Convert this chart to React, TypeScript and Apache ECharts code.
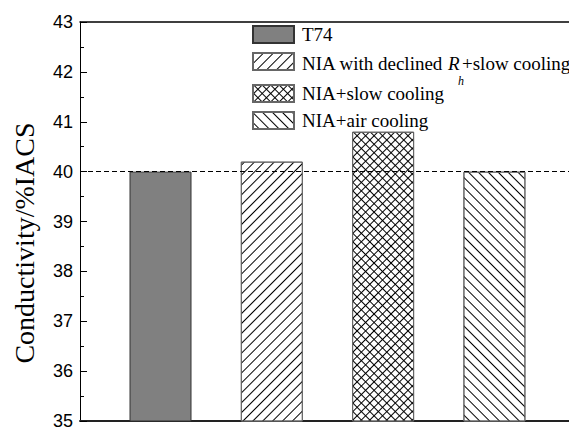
import React, { useEffect, useRef } from 'react';
import * as echarts from 'echarts';

// ---- data ----
const categories = ['T74', 'NIA with declined Rh+slow cooling', 'NIA+slow cooling', 'NIA+air cooling'];
const positions = [1, 2, 3, 4];
const values = [40.0, 40.2, 40.8, 40.0];
const yMin = 35;
const yMax = 43;
const yInterval = 1;
const referenceValue = 40;
const yAxisTitle = 'Conductivity/%IACS';
// legend label pieces for the second entry (R with subscript h)
const labelRow2 = ['NIA with declined', 'R', 'h', '+slow cooling'];

// ---- styles ----
const SERIF = '"Liberation Serif", "Times New Roman", serif';
const SANS = '"Liberation Sans", Arial, sans-serif';
const xMin = 0.2767;
const xMax = 4.67;

const lineDecal = (rotation: number) => ({
  symbol: 'rect',
  symbolSize: 1,
  dashArrayX: [1, 0],
  dashArrayY: [1, 6],
  rotation,
  color: '#000',
  backgroundColor: null,
});
const crossDecal = {
  symbol: 'rect',
  symbolSize: 1,
  dashArrayX: [[6, 0], [1, 5], [1, 5], [1, 5], [1, 5], [1, 5]],
  dashArrayY: [1, 0],
  rotation: Math.PI / 4,
  color: '#000',
  backgroundColor: null,
};
const fills = ['#808080', '#fff', '#fff', '#fff'];
const borders = ['#333', '#666', '#666', '#666'];
const decals: any[] = [undefined, lineDecal(-Math.PI / 4), crossDecal, lineDecal(Math.PI / 4)];
const legendIconTops = [25, 52, 84, 111];
const legendTextY = [34, 63, 93, 120];
const LEGEND_FONT = 19;
const row2X = [302, 448, 458, 462];
const row2Y = [63, 63, 81, 63];
const row2Font = [
  `${LEGEND_FONT}px ${SERIF}`,
  `italic ${LEGEND_FONT}px ${SERIF}`,
  `italic 12px ${SERIF}`,
  `${LEGEND_FONT}px ${SERIF}`,
];

export default function App() {
  const ref = useRef<HTMLDivElement>(null);
  useEffect(() => {
    if (!ref.current) return;
    const chart = echarts.init(ref.current, undefined, { renderer: 'svg' });
    const series = categories.map((name, i) => ({
      type: 'bar',
      name,
      xAxisIndex: 0,
      data: [[positions[i], values[i]]],
      barWidth: 62,
      barGap: '-100%',
      itemStyle: {
        color: fills[i],
        borderColor: borders[i],
        borderWidth: 1,
        ...(decals[i] ? { decal: decals[i] } : {}),
      },
      ...(i === 0
        ? {
            markLine: {
              silent: true,
              symbol: ['none', 'none'],
              label: { show: false },
              lineStyle: { type: [5, 3], color: '#000', width: 1 },
              data: [{ yAxis: referenceValue }],
              z: 10,
            },
          }
        : {}),
    }));
    const legends = categories.map((name, i) => ({
      data: [name],
      left: 252,
      top: legendIconTops[i],
      padding: 0,
      itemWidth: 41,
      itemHeight: 17,
      icon: 'rect',
      selectedMode: false,
      formatter: () => '',
      textStyle: { fontSize: 1, lineHeight: 1 },
    }));
    const simpleTexts = categories
      .map((label, i) => ({ label, i }))
      .filter(({ i }) => i !== 1)
      .map(({ label, i }) => ({
        type: 'text',
        x: 302,
        y: legendTextY[i],
        silent: true,
        style: {
          text: label,
          font: `${LEGEND_FONT}px ${SERIF}`,
          fill: '#000',
          align: 'left',
          verticalAlign: 'middle',
        },
      }));
    const row2Texts = labelRow2.map((t, k) => ({
      type: 'text',
      x: row2X[k],
      y: row2Y[k],
      silent: true,
      style: { text: t, font: row2Font[k], fill: '#000', align: 'left', verticalAlign: 'middle' },
    }));
    chart.setOption({
      animation: false,
      grid: { left: 80, top: 22, bottom: 2, right: 0 },
      xAxis: [
        {
          type: 'value',
          min: xMin,
          max: xMax,
          position: 'bottom',
          axisLine: { show: true, lineStyle: { color: '#222', width: 2 } },
          axisTick: { show: false },
          axisLabel: { show: false },
          splitLine: { show: false },
        },
        {
          type: 'value',
          min: xMin,
          max: xMax,
          position: 'top',
          axisLine: { show: true, lineStyle: { color: '#000', width: 1.5 } },
          axisTick: { show: false },
          axisLabel: { show: false },
          splitLine: { show: false },
        },
      ],
      yAxis: {
        type: 'value',
        min: yMin,
        max: yMax,
        interval: yInterval,
        axisLine: { show: true, lineStyle: { color: '#000', width: 1 } },
        axisTick: { show: true, inside: true, length: 7, lineStyle: { color: '#000' } },
        minorTick: { show: true, splitNumber: 2, length: 4, lineStyle: { color: '#000' } },
        axisLabel: { fontFamily: SANS, fontSize: 18, color: '#000', margin: 7 },
        splitLine: { show: false },
      },
      legend: legends,
      graphic: [
        {
          type: 'text',
          x: 24,
          y: 243,
          rotation: Math.PI / 2,
          silent: true,
          style: {
            text: yAxisTitle,
            font: `28px ${SERIF}`,
            fill: '#000',
            align: 'center',
            verticalAlign: 'middle',
          },
        },
        ...simpleTexts,
        ...row2Texts,
      ],
      series,
    });
    return () => chart.dispose();
  }, []);
  return (
    <div
      ref={ref}
      style={{ position: 'absolute', left: 0, top: 0, width: 569, height: 430, background: '#fff' }}
    />
  );
}
